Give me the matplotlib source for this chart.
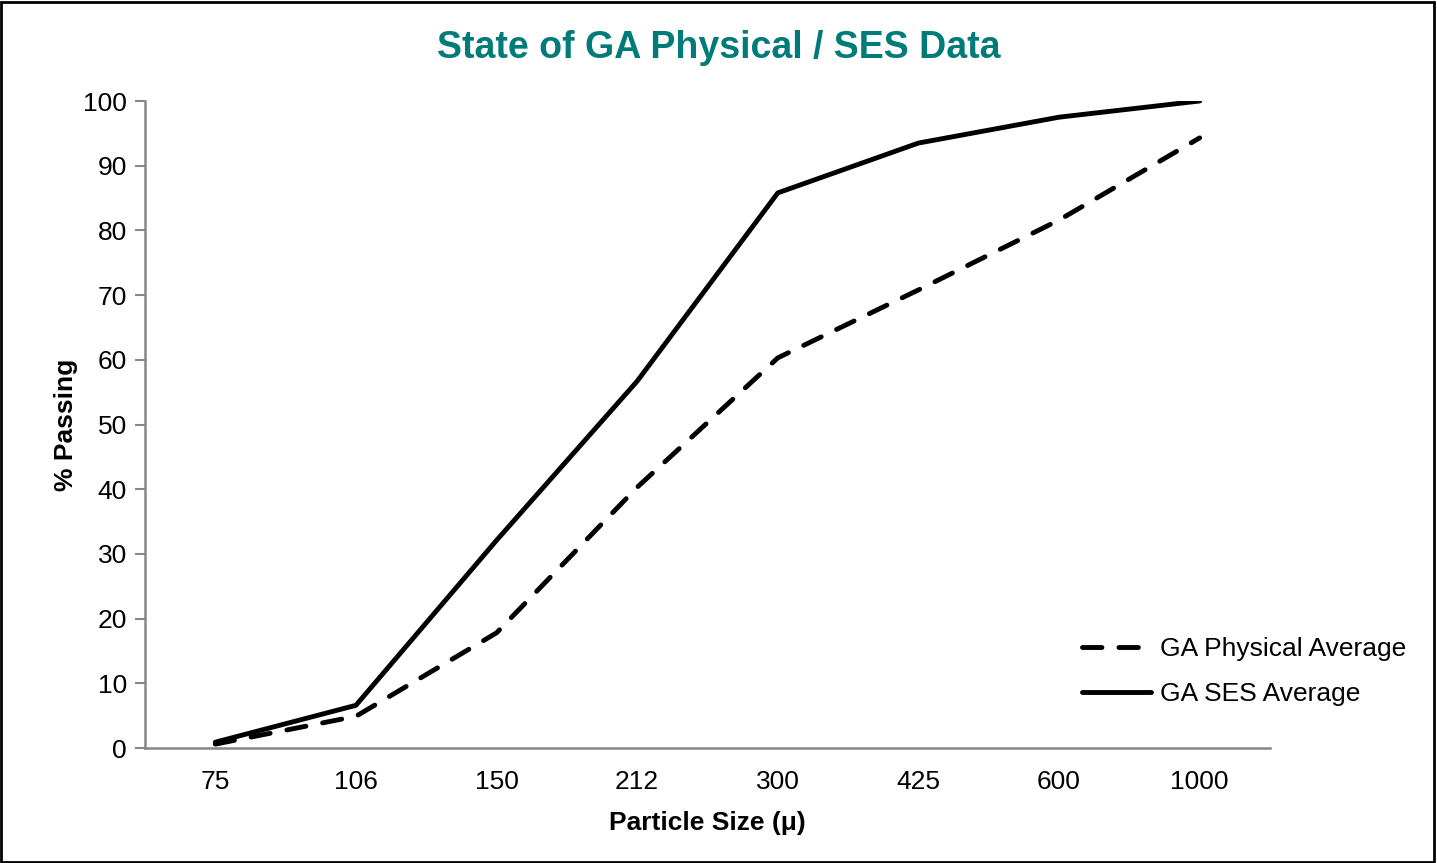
import matplotlib
matplotlib.use("Agg")
import matplotlib.pyplot as plt
from matplotlib.patches import Rectangle

plt.rcParams["font.family"] = ["Liberation Sans", "DejaVu Sans"]

sizes = ["75", "106", "150", "212", "300", "425", "600", "1000"]
physical = [0.6, 4.9, 17.8, 40.3, 60.3, 70.8, 81.6, 94.3]
ses = [0.9, 6.6, 32.1, 56.7, 85.8, 93.5, 97.5, 100.0]

TEAL = "#007B7A"
AXGRAY = "#868686"

fig = plt.figure(figsize=(14.37, 8.63), dpi=100)
ax = fig.add_axes([145/1437, 1 - 748/863, 1125/1437, 647/863])

x = range(len(sizes))
ax.plot(x, physical, color="black", lw=3.5, ls=(0, (4, 3.5)),
        dash_capstyle="round", label="GA Physical Average")
ax.plot(x, ses, color="black", lw=3.5, solid_capstyle="round",
        label="GA SES Average")

ax.set_xlim(-0.5, len(sizes) - 0.5)
ax.set_ylim(0, 100)
ax.set_yticks(range(0, 101, 10))
ax.set_xticks(list(x))
ax.set_xticklabels(sizes)
ax.tick_params(axis="x", length=0, pad=16, labelsize=19)
ax.tick_params(axis="y", length=7, width=1.5, color=AXGRAY, pad=6, labelsize=19)

for s in ("top", "right"):
    ax.spines[s].set_visible(False)
for s in ("left", "bottom"):
    ax.spines[s].set_color(AXGRAY)
    ax.spines[s].set_linewidth(1.8)

ax.set_xlabel("Particle Size (\u03bc)", fontsize=19, fontweight="bold", labelpad=12)
ax.set_ylabel("% Passing", fontsize=19, fontweight="bold", labelpad=4)
fig.text(0.5, 1 - 48/863, "State of GA Physical / SES Data", ha="center", va="center",
         fontsize=27, fontweight="bold", color=TEAL)

ax.legend(loc="lower right", bbox_to_anchor=(1.142, 0.028), frameon=False,
          fontsize=19, handlelength=2.6, handletextpad=0.35, labelspacing=0.8)

fig.patches.append(Rectangle((0.001, 0.001), 0.997, 0.997, transform=fig.transFigure,
                             fill=False, edgecolor="black", lw=2))

fig.savefig("out.png", dpi=100)
